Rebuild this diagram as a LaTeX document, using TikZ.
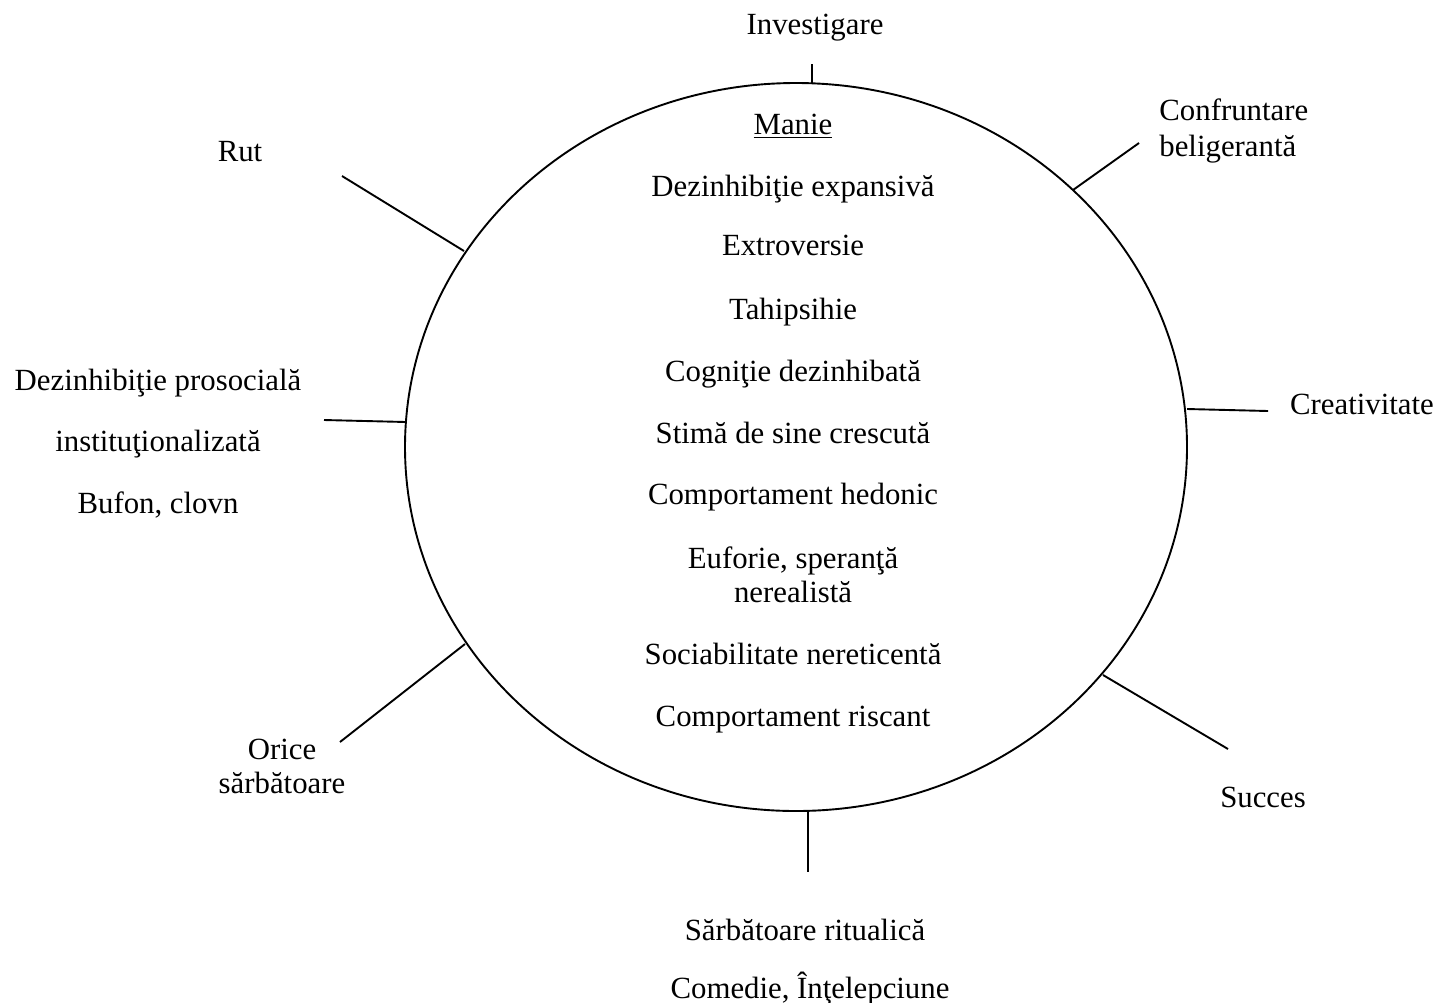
\documentclass[tikz,border=0pt]{standalone}
\usepackage{fontspec}
\setmainfont{Liberation Serif}
\begin{document}
\begin{tikzpicture}[x=0.5pt,y=-0.5pt,
  lbl/.style={inner sep=0pt,font=\fontsize{15.4pt}{17pt}\selectfont,align=center},
  one/.style={lbl,text height=10.2pt,text depth=0pt},
  lbll/.style={inner sep=0pt,font=\fontsize{15.4pt}{18pt}\selectfont,align=left,anchor=west},
  spoke/.style={line width=0.95pt,line cap=butt}]
\useasboundingbox (0,0) rectangle (1438,1002);
\draw[line width=0.95pt] (796,447) ellipse (391 and 364);
% spoke end points
\coordinate (t1) at (812,64);   \coordinate (t2) at (812,83);
\coordinate (c1) at (1139,143); \coordinate (c2) at (1073,190);
\coordinate (r1) at (1187,409); \coordinate (r2) at (1268,411);
\coordinate (s1) at (1103,675); \coordinate (s2) at (1228,749);
\coordinate (b1) at (808,811);  \coordinate (b2) at (808,872);
\coordinate (o1) at (465,644);  \coordinate (o2) at (340,742);
\coordinate (l1) at (406,422);  \coordinate (l2) at (324,420);
\coordinate (u1) at (464,251);  \coordinate (u2) at (342,176);
\draw[spoke] (t1) -- (t2);
\draw[spoke] (c1) -- (c2);
\draw[spoke] (r1) -- (r2);
\draw[spoke] (s1) -- (s2);
\draw[spoke] (b1) -- (b2);
\draw[spoke] (o1) -- (o2);
\draw[spoke] (l1) -- (l2);
\draw[spoke] (u1) -- (u2);
% outer labels
\node[one] (inv) at (815,24) {Investigare};
\node[lbll] (conf) at (1159,131) {Confruntare\\beligerantă};
\node[one] (rut) at (240,151) {Rut};
\node[one] (crea) at (1362,404) {Creativitate};
\node[one] (dp1) at (158,380) {Dezinhibiţie prosocială};
\node[one] (dp2) at (158,441) {instituţionalizată};
\node[one] (dp3) at (158,503) {Bufon, clovn};
\node[lbl] (ori) at (282,766) {Orice\\sărbătoare};
\node[one] (suc) at (1263,797) {Succes};
\node[one] (sr) at (805,930) {Sărbătoare ritualică};
\node[one] (com) at (810,988) {Comedie, Înţelepciune};
% inner labels
\node[one] (m0) at (793,124) {\underline{Manie}};
\node[one] (m1) at (793,186) {Dezinhibiţie expansivă};
\node[one] (m2) at (793,245) {Extroversie};
\node[one] (m3) at (793,309) {Tahipsihie};
\node[one] (m4) at (793,371) {Cogniţie dezinhibată};
\node[one] (m5) at (793,433) {Stimă de sine crescută};
\node[one] (m6) at (793,494) {Comportament hedonic};
\node[lbl] (m7) at (793,575) {Euforie, speranţă\\nerealistă};
\node[one] (m8) at (793,654) {Sociabilitate nereticentă};
\node[one] (m9) at (793,716) {Comportament riscant};
\end{tikzpicture}
\end{document}
